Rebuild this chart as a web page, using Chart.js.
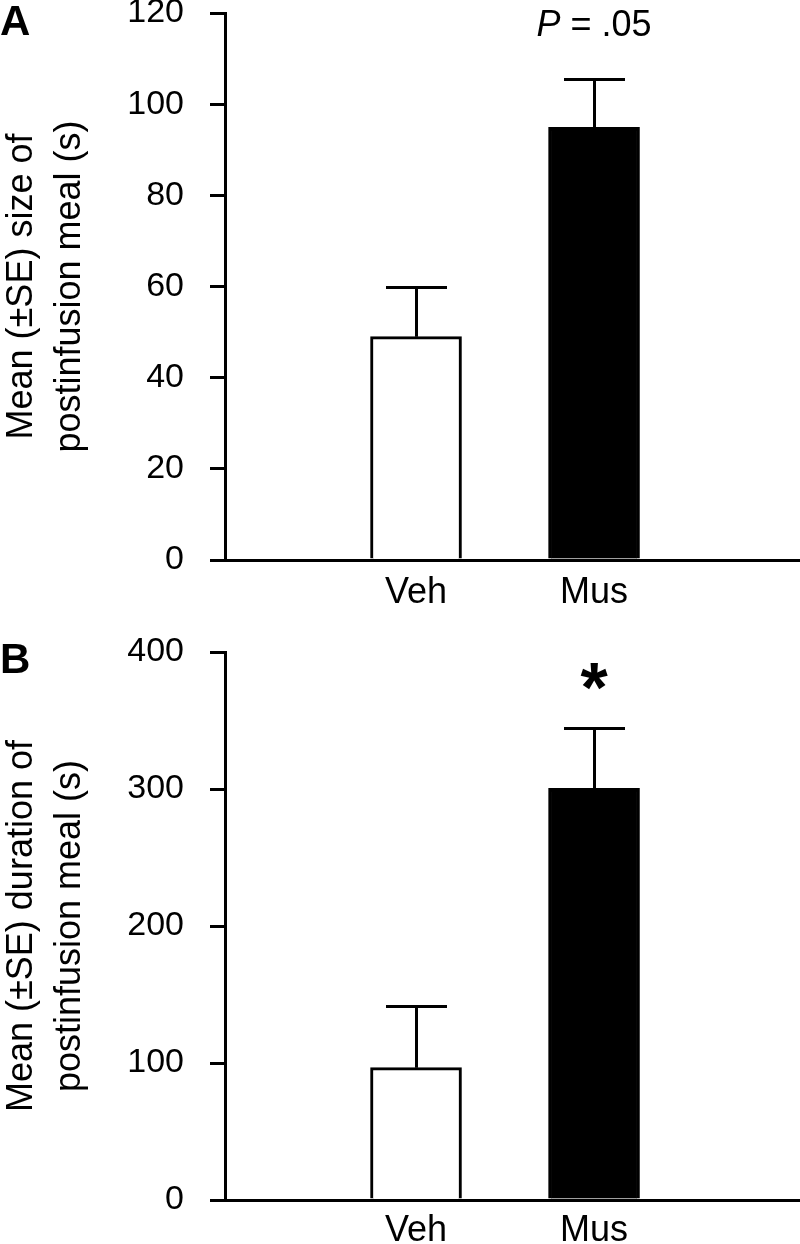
<!DOCTYPE html>
<html><head><meta charset="utf-8">
<script src="https://cdn.jsdelivr.net/npm/chart.js@4.4.1/dist/chart.umd.min.js"></script>
<style>
html,body{margin:0;padding:0;background:#fff;}
#wrap{position:relative;width:800px;height:1244px;overflow:hidden;background:#fff;}
.panel{position:absolute;left:0;width:800px;height:622px;}
#pA{top:0}
#pB{top:622px}
</style></head><body>
<div id="wrap">
<div class="panel" id="pA"><canvas id="cA" width="800" height="622"></canvas></div>
<div class="panel" id="pB"><canvas id="cB" width="800" height="622"></canvas></div>
</div>
<script>
// ---- data ----
const categories = ['Veh', 'Mus'];
const categoryPositions = [1, 2];
const sizeMeans = [49.0, 94.9];
const sizeSE = [10.8, 10.6];
const durationMeans = [96.6, 300.5];
const durationSE = [45.0, 43.8];
const sizeTicks = [0, 20, 40, 60, 80, 100, 120];
const durationTicks = [0, 100, 200, 300, 400];
const sizeTitle = ['Mean (±SE) size of', 'postinfusion meal (s)'];
const durationTitle = ['Mean (±SE) duration of', 'postinfusion meal (s)'];
const barFills = ['#ffffff', '#000000'];

const FONT = '"Liberation Sans", Arial, Helvetica, sans-serif';

const errorBarPlugin = {
  id: 'errorBars',
  afterDatasetsDraw(chart, args, opts) {
    const {ctx, scales: {x, y}} = chart;
    const ds = chart.data.datasets[0];
    ctx.save();
    ctx.strokeStyle = '#000';
    ctx.lineWidth = 3;
    ds.data.forEach((pt, i) => {
      const px = Math.round(x.getPixelForValue(pt.x)) + 0.5;
      const y0 = y.getPixelForValue(pt.y);
      const y1 = Math.round(y.getPixelForValue(pt.y + opts.se[i])) + 0.5;
      ctx.beginPath();
      ctx.moveTo(px, y0);
      ctx.lineTo(px, y1);
      ctx.moveTo(px - opts.cap / 2, y1);
      ctx.lineTo(px + opts.cap / 2, y1);
      ctx.stroke();
    });
    ctx.restore();
  }
};

const annotPlugin = {
  id: 'annot',
  afterDraw(chart, args, opts) {
    const {ctx, scales: {x, y}} = chart;
    ctx.save();
    ctx.fillStyle = '#000';
    ctx.textBaseline = 'alphabetic';
    ctx.font = 'bold 42px ' + FONT;
    ctx.textAlign = 'left';
    ctx.fillText(opts.letter, 0, opts.letterY);
    const cx = x.getPixelForValue(opts.markX);
    const cy = y.getPixelForValue(opts.markY);
    if (opts.mark === 'p') {
      ctx.font = 'italic 36px ' + FONT;
      const w1 = ctx.measureText('P').width;
      ctx.font = '36px ' + FONT;
      const rest = ' = .05';
      const w2 = ctx.measureText(rest).width;
      const sx = cx - (w1 + w2) / 2;
      ctx.font = 'italic 36px ' + FONT;
      ctx.fillText('P', sx, cy);
      ctx.font = '36px ' + FONT;
      ctx.fillText(rest, sx + w1, cy);
    } else if (opts.mark === 'star') {
      ctx.font = 'bold 70px ' + FONT;
      ctx.textAlign = 'center';
      ctx.fillText('*', cx, cy);
    }
    ctx.restore();
  }
};

function makeChart(canvasId, means, se, ticks, title, cfg) {
  const yMax = ticks[ticks.length - 1];
  return new Chart(document.getElementById(canvasId), {
    type: 'bar',
    data: {
      datasets: [{
        data: categoryPositions.map((p, i) => ({x: p, y: means[i]})),
        backgroundColor: barFills,
        borderColor: '#000',
        borderWidth: 3,
        borderSkipped: 'start',
        barThickness: 91
      }]
    },
    options: {
      responsive: false,
      animation: false,
      devicePixelRatio: 1,
      layout: {padding: {top: cfg.top, left: 0, right: 0, bottom: 0}},
      plugins: {
        legend: {display: false},
        tooltip: {enabled: false},
        errorBars: {se: se, cap: 61},
        annot: cfg.annot
      },
      scales: {
        x: {
          type: 'linear',
          offset: false,
          min: -0.073,
          max: 3.157,
          afterBuildTicks: s => { s.ticks = categoryPositions.map(v => ({value: v})); },
          ticks: {
            callback: v => categories[categoryPositions.indexOf(v)],
            font: {family: FONT, size: 36},
            color: '#000',
            padding: cfg.xPad,
            maxRotation: 0,
            autoSkip: false
          },
          grid: {display: false, drawTicks: false, offset: false},
          border: {display: true, width: 3, color: '#000'},
          afterFit: s => { s.height = cfg.xh; s.paddingLeft = 0; s.paddingRight = 0; }
        },
        y: {
          min: 0,
          max: yMax,
          afterBuildTicks: s => { s.ticks = ticks.map(v => ({value: v})); },
          ticks: {
            font: {family: FONT, size: 34},
            color: '#000',
            padding: 26,
            autoSkip: false
          },
          grid: {drawOnChartArea: false, drawTicks: true, tickLength: 15, lineWidth: 3, color: '#000'},
          border: {display: true, width: 3, color: '#000'},
          title: {
            display: true,
            text: title,
            font: {family: FONT, size: 36, lineHeight: 1.333},
            color: '#000',
            padding: {top: -2, bottom: 0}
          },
          afterFit: s => { s.width = 225; s.paddingTop = 0; s.paddingBottom = 0; }
        }
      }
    },
    plugins: [errorBarPlugin, annotPlugin]
  });
}

makeChart('cA', sizeMeans, sizeSE, sizeTicks, sizeTitle, {
  top: 13, xh: 62, xPad: 11,
  annot: {letter: 'A', letterY: 35, mark: 'p', markX: 2, markY: 115}
});
makeChart('cB', durationMeans, durationSE, durationTicks, durationTitle, {
  top: 30, xh: 44, xPad: 9,
  annot: {letter: 'B', letterY: 51, mark: 'star', markX: 2, markY: 356}
});
</script>
</body></html>
